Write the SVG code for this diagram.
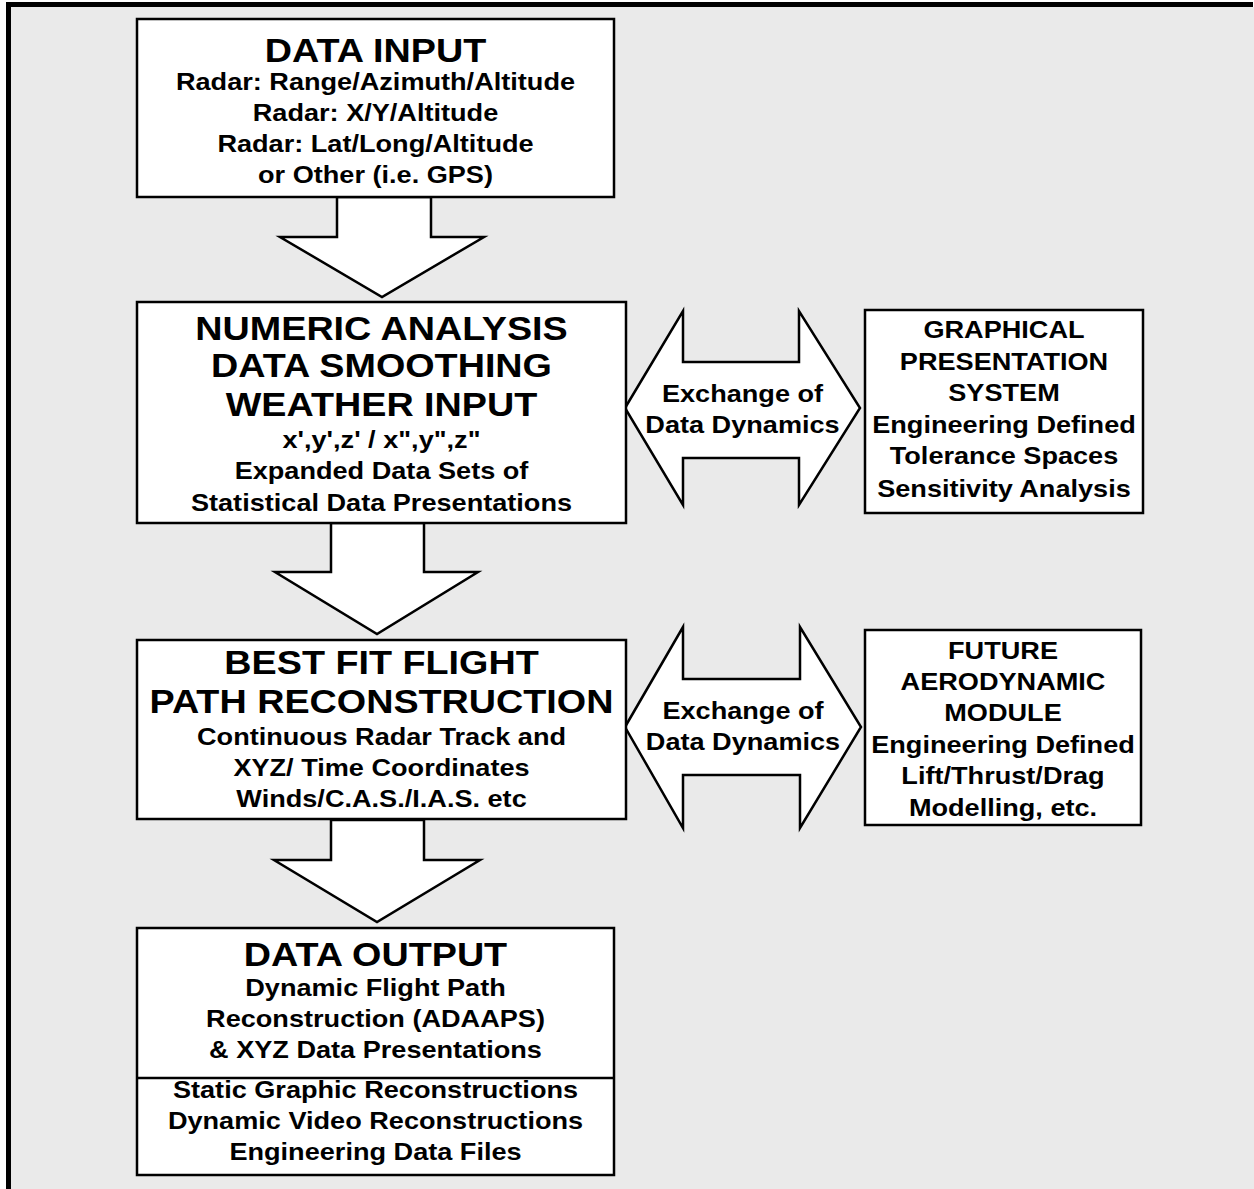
<svg xmlns="http://www.w3.org/2000/svg" width="1254" height="1189" viewBox="0 0 1254 1189">
<defs>
<style>
.box{fill:#fff;stroke:#000;stroke-width:2.5}
.arr{fill:#fff;stroke:#000;stroke-width:2.5;stroke-linejoin:miter}
text{font-family:"Liberation Sans",Arial,sans-serif;font-weight:bold;fill:#000;text-anchor:middle}
.t{font-size:34px}
.s{font-size:24px}
</style>
</defs>
<rect x="0" y="0" width="1254" height="1189" fill="#fff"/>
<rect x="11" y="7" width="1243" height="1182" fill="#eaeaea"/>
<rect x="6" y="2" width="1247" height="5" fill="#000"/>
<rect x="6" y="2" width="5" height="1187" fill="#000"/>

<g id="connectors">
<polygon class="arr" points="337,197 431,197 431,237 484,237 382,297 280,237 337,237"/>
<polygon class="arr" points="331,523 424,523 424,572 478,572 377,634 275,572 331,572"/>
<polygon class="arr" points="331,820 424,820 424,860 480,860 377,922 274,860 331,860"/>
<g id="exchange1">
<polygon class="arr" points="625,408 683,311 683,362 799,362 799,311 860,408 799,505 799,458 683,458 683,505"/>
<text class="s" transform="translate(742.5 402) scale(1.13 1)">Exchange of</text>
<text class="s" transform="translate(742.5 433) scale(1.13 1)">Data Dynamics</text>
</g>
<g id="exchange2">
<polygon class="arr" points="625,727 683,627 683,679 800,679 800,627 861,727 800,828 800,775 683,775 683,828"/>
<text class="s" transform="translate(743 719) scale(1.13 1)">Exchange of</text>
<text class="s" transform="translate(743 750) scale(1.13 1)">Data Dynamics</text>
</g>
</g>

<g id="data-input">
<rect class="box" x="137" y="19" width="477" height="178"/>
<text class="t" transform="translate(375.5 62) scale(1.11 1)">DATA INPUT</text>
<text class="s" transform="translate(375.5 90) scale(1.13 1)">Radar: Range/Azimuth/Altitude</text>
<text class="s" transform="translate(375.5 121) scale(1.13 1)">Radar: X/Y/Altitude</text>
<text class="s" transform="translate(375.5 152) scale(1.13 1)">Radar: Lat/Long/Altitude</text>
<text class="s" transform="translate(375.5 183) scale(1.13 1)">or Other (i.e. GPS)</text>
</g>

<g id="numeric-analysis">
<rect class="box" x="137" y="302" width="489" height="221"/>
<text class="t" transform="translate(381.5 340) scale(1.11 1)">NUMERIC ANALYSIS</text>
<text class="t" transform="translate(381.5 377) scale(1.11 1)">DATA SMOOTHING</text>
<text class="t" transform="translate(381.5 416) scale(1.11 1)">WEATHER INPUT</text>
<text class="s" transform="translate(381.5 448) scale(1.13 1)">x',y',z' / x",y",z"</text>
<text class="s" transform="translate(381.5 479) scale(1.13 1)">Expanded Data Sets of</text>
<text class="s" transform="translate(381.5 511) scale(1.13 1)">Statistical Data Presentations</text>
</g>

<g id="best-fit">
<rect class="box" x="137" y="640" width="489" height="179"/>
<text class="t" transform="translate(381.5 674) scale(1.11 1)">BEST FIT FLIGHT</text>
<text class="t" transform="translate(381.5 713) scale(1.11 1)">PATH RECONSTRUCTION</text>
<text class="s" transform="translate(381.5 745) scale(1.13 1)">Continuous Radar Track and</text>
<text class="s" transform="translate(381.5 776) scale(1.13 1)">XYZ/ Time Coordinates</text>
<text class="s" transform="translate(381.5 807) scale(1.13 1)">Winds/C.A.S./I.A.S. etc</text>
</g>

<g id="data-output">
<rect class="box" x="137" y="928" width="477" height="247"/>
<line x1="137" y1="1078" x2="614" y2="1078" stroke="#000" stroke-width="2.5"/>
<text class="t" transform="translate(375.5 966) scale(1.11 1)">DATA OUTPUT</text>
<text class="s" transform="translate(375.5 996) scale(1.13 1)">Dynamic Flight Path</text>
<text class="s" transform="translate(375.5 1027) scale(1.13 1)">Reconstruction (ADAAPS)</text>
<text class="s" transform="translate(375.5 1058) scale(1.13 1)">&amp; XYZ Data Presentations</text>
<text class="s" transform="translate(375.5 1098) scale(1.13 1)">Static Graphic Reconstructions</text>
<text class="s" transform="translate(375.5 1129) scale(1.13 1)">Dynamic Video Reconstructions</text>
<text class="s" transform="translate(375.5 1160) scale(1.13 1)">Engineering Data Files</text>
</g>

<g id="graphical-presentation">
<rect class="box" x="865" y="310" width="278" height="203"/>
<text class="s" transform="translate(1004 338) scale(1.13 1)">GRAPHICAL</text>
<text class="s" transform="translate(1004 370) scale(1.13 1)">PRESENTATION</text>
<text class="s" transform="translate(1004 401) scale(1.13 1)">SYSTEM</text>
<text class="s" transform="translate(1004 433) scale(1.13 1)">Engineering Defined</text>
<text class="s" transform="translate(1004 464) scale(1.13 1)">Tolerance Spaces</text>
<text class="s" transform="translate(1004 497) scale(1.13 1)">Sensitivity Analysis</text>
</g>

<g id="aerodynamic-module">
<rect class="box" x="865" y="630" width="276" height="195"/>
<text class="s" transform="translate(1003 659) scale(1.13 1)">FUTURE</text>
<text class="s" transform="translate(1003 690) scale(1.13 1)">AERODYNAMIC</text>
<text class="s" transform="translate(1003 721) scale(1.13 1)">MODULE</text>
<text class="s" transform="translate(1003 753) scale(1.13 1)">Engineering Defined</text>
<text class="s" transform="translate(1003 784) scale(1.13 1)">Lift/Thrust/Drag</text>
<text class="s" transform="translate(1003 816) scale(1.13 1)">Modelling, etc.</text>
</g>
</svg>
